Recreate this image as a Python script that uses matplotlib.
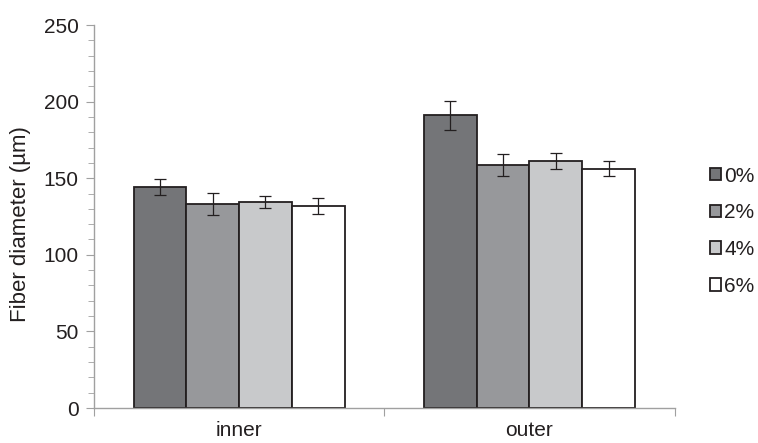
import matplotlib
matplotlib.use("Agg")
import matplotlib.pyplot as plt
import numpy as np

plt.rcParams['font.family'] = ['Liberation Sans', 'DejaVu Sans']

categories = ['inner', 'outer']
series = ['0%', '2%', '4%', '6%']
means = [
    [144.5, 191.0],
    [133.2, 158.5],
    [134.3, 161.0],
    [131.9, 156.3],
]
errors = [
    [5.3, 9.5],
    [7.3, 7.0],
    [4.0, 5.3],
    [5.0, 4.7],
]
colors = ['#747578', '#97989b', '#c8c9cb', '#ffffff']

fig = plt.figure(figsize=(7.58, 4.43), dpi=100)
ax = fig.add_axes([0.124, 0.079, 0.766, 0.8645])

x = np.arange(len(categories))
width = 0.1815
for i, (name, m, e, c) in enumerate(zip(series, means, errors, colors)):
    pos = x + (i - 1.5) * width
    ax.bar(pos, m, width, color=c, edgecolor='#231f20', linewidth=1.3,
           label=name, zorder=2)
    ax.errorbar(pos, m, yerr=e, fmt='none', ecolor='#231f20',
                elinewidth=0.9, capsize=4, capthick=0.9, zorder=3)

ax.set_xlim(-0.5, 1.5)
ax.set_ylim(0, 250)
ax.set_yticks(np.arange(0, 251, 50))
ax.set_yticks(np.arange(0, 251, 10), minor=True)
ax.set_xticks([-0.5, 0.5, 1.5])
ax.set_xticklabels([])
ax.set_xticks(x, minor=True)
ax.set_xticklabels(categories, minor=True)

for s in ['top', 'right']:
    ax.spines[s].set_visible(False)
for s in ['left', 'bottom']:
    ax.spines[s].set_color('#a0a0a0')
    ax.spines[s].set_linewidth(1.0)

ax.tick_params(axis='y', which='major', length=6, color='#a0a0a0',
               labelsize=15, pad=5, labelcolor='#231f20')
ax.tick_params(axis='y', which='minor', length=4, color='#a0a0a0')
ax.tick_params(axis='x', which='major', length=6, color='#a0a0a0')
ax.tick_params(axis='x', which='minor', length=0, labelsize=15, pad=9,
               labelcolor='#231f20')

ax.set_ylabel('Fiber diameter (µm)', fontsize=16, color='#231f20')
ax.yaxis.set_label_coords(-0.108, 0.48)

leg = ax.legend(loc='center left', bbox_to_anchor=(1.028, 0.462), frameon=False,
                fontsize=15, handlelength=0.55, handleheight=0.55,
                handletextpad=0.15, labelspacing=0.85)
for t in leg.get_texts():
    t.set_color('#231f20')

fig.savefig('out.png', dpi=100)
